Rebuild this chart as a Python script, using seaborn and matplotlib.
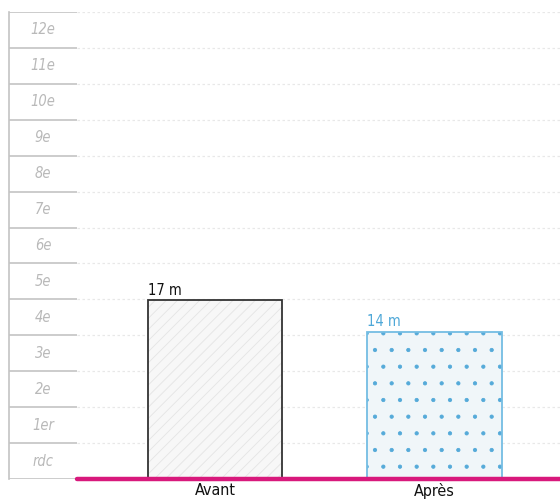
import matplotlib
matplotlib.use('Agg')
import matplotlib.pyplot as plt
import matplotlib.patches as mpatches
import pandas as pd
import seaborn as sns

sns.set_theme(style='white')
plt.rcParams['font.family'] = ['DejaVu Sans']
plt.rcParams['hatch.linewidth'] = 0.6

periods = ['Avant', 'Après']
heights_m = [17, 14]
value_labels = ['17 m', '14 m']
floor_labels = ['rdc', '1er', '2e', '3e', '4e', '5e', '6e', '7e', '8e', '9e', '10e', '11e', '12e']
floor_height = 3.42

fills = ['#f7f7f7', '#eef6fb']
hatches = ['///', '.']
hatch_colors = ['#e4e4e4', '#55aad9']
edges = ['#333333', '#74bde3']
label_colors = ['#111111', '#4fa8d8']
pink = '#d8197c'

df = pd.DataFrame({'period': periods, 'height': heights_m})
ymax = len(floor_labels) * floor_height

fig = plt.figure(figsize=(5.6, 5.04), dpi=100)
W, H = 560, 504
bottom = (H - 479) / H
top = (H - 12) / H
ax_floor = fig.add_axes([9 / W, bottom, (77 - 9) / W, top - bottom])
ax = fig.add_axes([77 / W, bottom, (560 - 77) / W, top - bottom])

# floor panel on the left
for i in range(len(floor_labels) + 1):
    ax_floor.axhline(i * floor_height, color='#c4c4c4', lw=1.2, zorder=1)
for i, lab in enumerate(floor_labels):
    ax_floor.text(0.5, (i + 0.5) * floor_height, lab, ha='center', va='center',
                  color='#b9b9b9', fontsize=10.5, style='italic', fontweight='light',
                  fontstretch='condensed')
ax_floor.set_ylim(0, ymax)
ax_floor.set_xlim(0, 1)
ax_floor.set_xticks([])
ax_floor.set_yticks([])
for side in ['top', 'right', 'bottom']:
    ax_floor.spines[side].set_visible(False)
ax_floor.spines['left'].set_color('#c4c4c4')
ax_floor.spines['left'].set_linewidth(1.2)
ax_floor.patch.set_alpha(0)

# main bars
sns.barplot(df, x='period', y='height', ax=ax, width=0.616, order=periods,
            palette=fills, hue='period', legend=False, linewidth=0, zorder=2)
for p, h, hc in zip(ax.patches, hatches, hatch_colors):
    p.set_hatch(h)
    p.set_edgecolor(hc)
    p.set_linewidth(0)
for p, ec, txt, tc in zip(list(ax.patches), edges, value_labels, label_colors):
    ax.add_patch(mpatches.Rectangle(p.get_xy(), p.get_width(), p.get_height(),
                                    fill=False, edgecolor=ec, lw=1.3, zorder=3))
    ax.text(p.get_x(), p.get_height() + 0.25, txt, ha='left', va='bottom',
            color=tc, fontsize=10.5, fontstretch='condensed')

for i in range(1, len(floor_labels) + 1):
    ax.axhline(i * floor_height, color='#e8e8e8', lw=0.9, ls=(0, (2, 2)), zorder=0)
ax.axhline(0, color=pink, lw=3.2, zorder=4, clip_on=False)

ax.set_ylim(0, ymax)
ax.set_xlim(-0.63, 1.575)
ax.set_xlabel('')
ax.set_ylabel('')
ax.set_yticks([])
ax.tick_params(axis='x', length=0, pad=3, labelsize=11.5, labelcolor='#111111')
for lab in ax.get_xticklabels():
    lab.set_fontstretch('condensed')
sns.despine(ax=ax, left=True, bottom=True)
ax.patch.set_alpha(0)

fig.savefig('out.png', dpi=100)
